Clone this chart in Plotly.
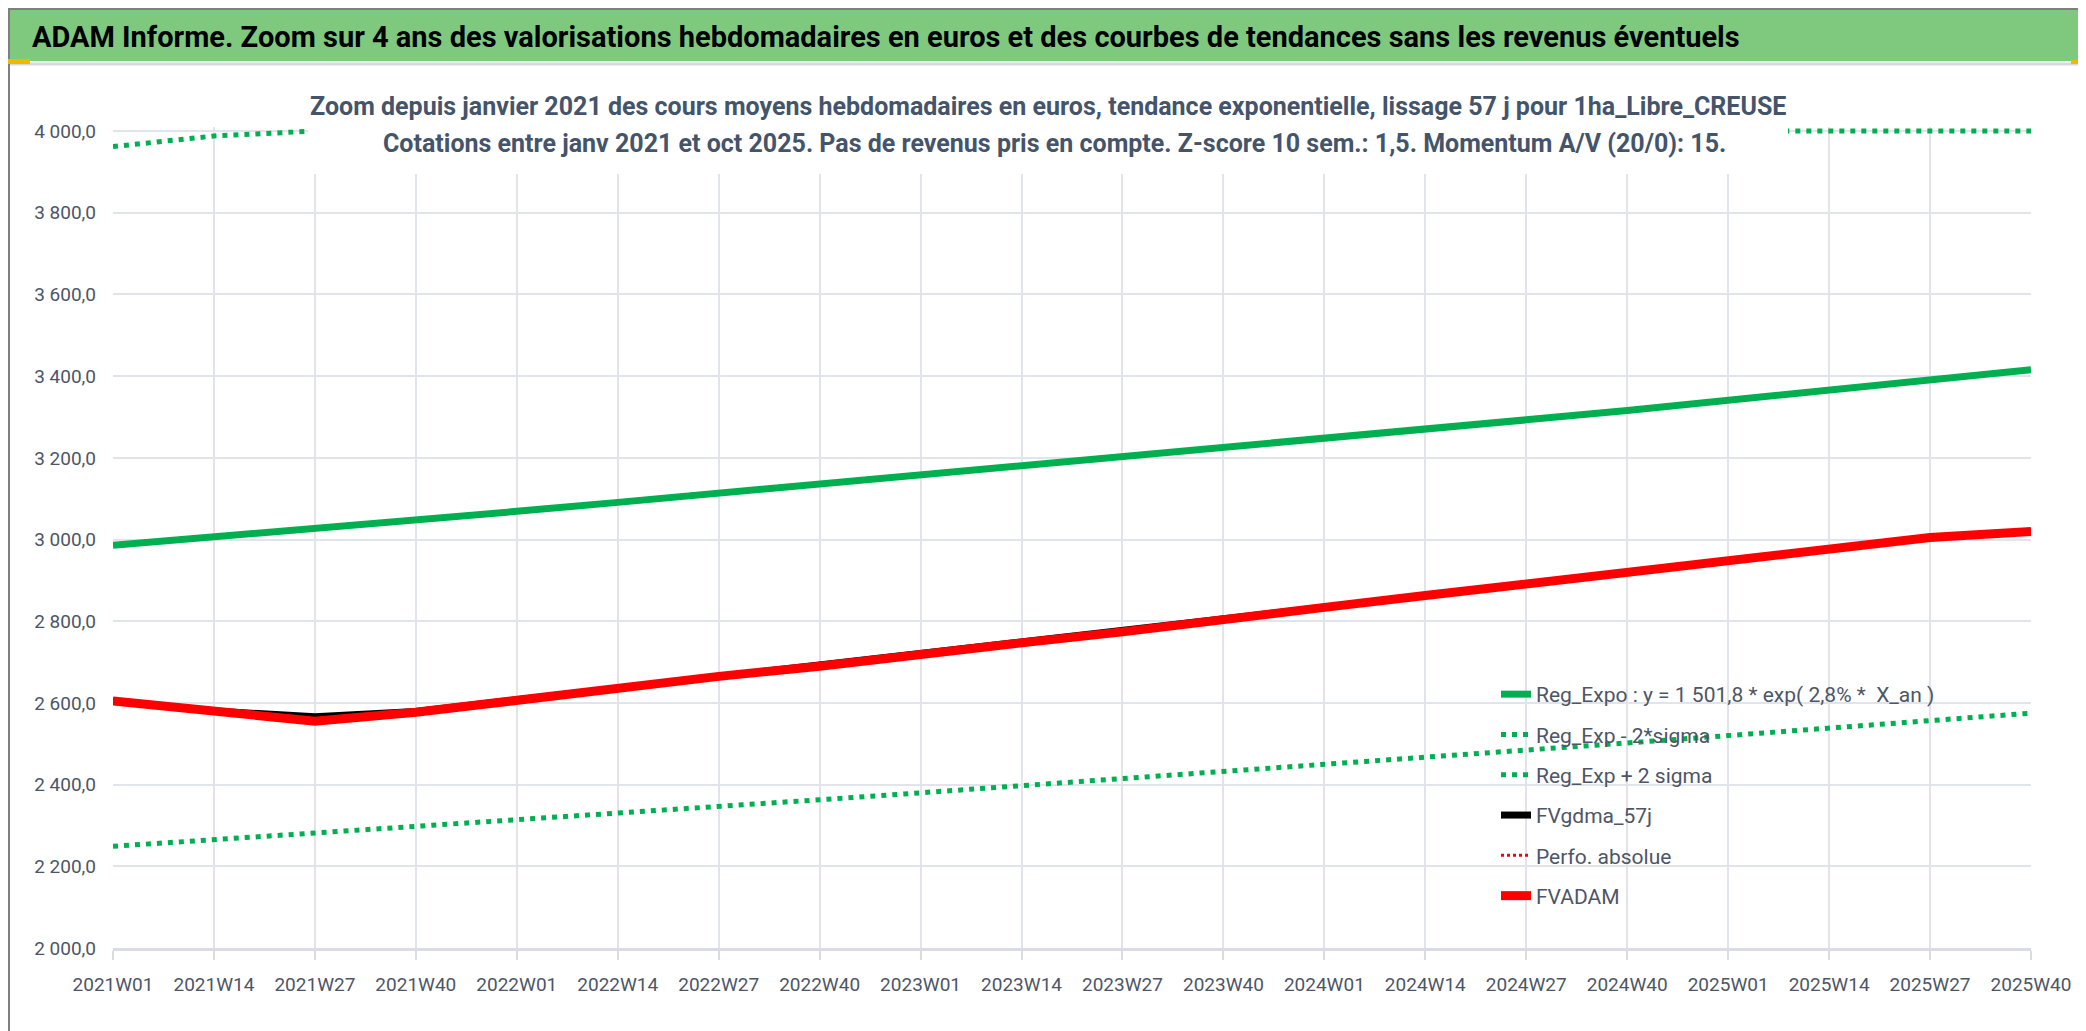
import plotly.graph_objects as go

# ====================== DATA ======================
weeks = ["2021W01", "2021W14", "2021W27", "2021W40",
         "2022W01", "2022W14", "2022W27", "2022W40",
         "2023W01", "2023W14", "2023W27", "2023W40",
         "2024W01", "2024W14", "2024W27", "2024W40",
         "2025W01", "2025W14", "2025W27", "2025W40"]

reg_expo = [2986, 3006, 3026, 3048, 3069, 3091, 3113, 3135, 3157, 3179,
            3201, 3224, 3247, 3270, 3293, 3316, 3340, 3364, 3390, 3416]
reg_minus_2sigma = [2249, 2265, 2281, 2297, 2313, 2329, 2346, 2363, 2380, 2397,
                    2414, 2431, 2448, 2466, 2484, 2502, 2520, 2538, 2556, 2575]
reg_plus_2sigma = [3962, 3988, 4000, 4000, 4000, 4000, 4000, 4000, 4000, 4000,
                   4000, 4000, 4000, 4000, 4000, 4000, 4000, 4000, 4000, 4000]
fvgdma_57j = [2605, 2580, 2566, 2579, 2608, 2636, 2665, 2690, 2720, 2747,
              2774, 2806, 2834, 2863, 2891, 2922, 2951, 2979, 3005, 3020]
perfo_absolue = [None] * len(weeks)
fvadam = [2605, 2578, 2555, 2577, 2608, 2636, 2665, 2690, 2720, 2747,
          2774, 2806, 2834, 2863, 2891, 2922, 2951, 2979, 3005, 3020]

TITLE = ("ADAM Informe. Zoom sur 4 ans des valorisations hebdomadaires en euros "
         "et des courbes de tendances sans les revenus éventuels")
SUB1 = ("Zoom depuis janvier 2021 des cours moyens hebdomadaires en euros, "
        "tendance exponentielle, lissage 57 j pour 1ha_Libre_CREUSE")
SUB2 = ("Cotations entre janv 2021 et oct 2025. Pas de revenus pris en compte. "
        "Z-score 10 sem.: 1,5. Momentum A/V (20/0): 15.")

# ====================== GEOMETRY ======================
W, H = 2086, 1031
ML, MR, MT, MB = 105, 63, 119, 91
PW, PH = W - ML - MR, H - MT - MB
FONT = "Roboto, Liberation Sans, sans-serif"
GREEN = "#00B050"
RED = "#FF0000"
GRID = "#E1E4EA"
TXT = "#4D5666"


def px(x):
    return (x - ML) / PW


def py(y):
    return (H - MB - y) / PH


# ====================== TRACES ======================
fig = go.Figure()
series = [
    ("Reg_Expo : y = 1 501,8 * exp( 2,8% *  X_an )", reg_expo, dict(color=GREEN, width=7)),
    ("Reg_Exp - 2*sigma", reg_minus_2sigma, dict(color=GREEN, width=5, dash="5px,6px")),
    ("Reg_Exp + 2 sigma", reg_plus_2sigma, dict(color=GREEN, width=5, dash="5px,6px")),
    ("FVgdma_57j", fvgdma_57j, dict(color="#000000", width=7)),
    ("Perfo. absolue", perfo_absolue, dict(color=RED, width=3, dash="3px,3px")),
    ("FVADAM", fvadam, dict(color=RED, width=9)),
]
for i, (name, vals, line) in enumerate(series):
    fig.add_trace(go.Scatter(x=weeks, y=vals, mode="lines", name=name,
                             line=line, legendgroup=f"g{i}",
                             hovertemplate="%{x}: %{y:,.1f}<extra>" + name + "</extra>"))

# ====================== FRAME / DECOR ======================
shapes = [
    # title band
    dict(type="rect", x0=px(0), x1=px(2084), y0=py(53), y1=py(1),
         fillcolor="#7FC97F", line=dict(width=0)),
    # subtitle box (hides what runs under it, as in the original)
    dict(type="rect", x0=px(300), x1=px(1780), y0=py(166), y1=py(60),
         fillcolor="white", line=dict(width=0)),
    # light chart borders
    dict(type="line", x0=px(0), x1=px(2080), y0=py(56), y1=py(56),
         line=dict(color="#D6DAE0", width=3)),
    dict(type="line", x0=px(2080), x1=px(2080), y0=py(56), y1=py(1025),
         line=dict(color="#D6DAE0", width=2)),
    dict(type="line", x0=px(0), x1=px(2080), y0=py(1025), y1=py(1025),
         line=dict(color="#D6DAE0", width=3)),
    # outer border
    dict(type="rect", x0=px(1), x1=px(2085), y0=py(1030), y1=py(1),
         line=dict(color="#7F7F7F", width=2)),
    # selection handles
    dict(type="rect", x0=px(0), x1=px(22), y0=py(56), y1=py(51),
         fillcolor="#F2B705", line=dict(width=0)),
    dict(type="rect", x0=px(2063), x1=px(2083), y0=py(56), y1=py(52),
         fillcolor="#F2B705", line=dict(width=0)),
    dict(type="rect", x0=px(2079), x1=px(2083), y0=py(72), y1=py(52),
         fillcolor="#F2B705", line=dict(width=0)),
    dict(type="rect", x0=px(2079), x1=px(2084), y0=py(1029), y1=py(988),
         fillcolor="#F2B705", line=dict(width=0)),
    dict(type="rect", x0=px(2063), x1=px(2084), y0=py(1029), y1=py(1025),
         fillcolor="#F2B705", line=dict(width=0)),
    dict(type="rect", x0=px(0), x1=px(21), y0=py(1030), y1=py(1026),
         fillcolor="#F2B705", line=dict(width=0)),
    dict(type="rect", x0=px(832), x1=px(966), y0=py(1030), y1=py(1027),
         fillcolor="#F7E98A", line=dict(width=0)),
]
for s in shapes:
    s.update(xref="paper", yref="paper", layer="above")

annotations = [
    dict(text="<b>" + TITLE + "</b>", x=px(22), y=py(29), xanchor="left", yanchor="middle",
         font=dict(family=FONT, size=29, color="#000000")),
    dict(text="<b>" + SUB1 + "</b>", x=px(1040), y=py(98), xanchor="center", yanchor="middle",
         font=dict(family=FONT, size=25, color="#44546A")),
    dict(text="<b>" + SUB2 + "</b>", x=px(1046), y=py(135), xanchor="center", yanchor="middle",
         font=dict(family=FONT, size=25, color="#44546A")),
]
for a in annotations:
    a.update(xref="paper", yref="paper", showarrow=False)

# ====================== LAYOUT ======================
fig.update_layout(
    width=W, height=H,
    margin=dict(l=ML, r=MR, t=MT, b=MB),
    paper_bgcolor="white", plot_bgcolor="white",
    separators=", ",
    font=dict(family=FONT, color=TXT),
    shapes=shapes, annotations=annotations,
    showlegend=True,
    legend=dict(x=px(1488), y=py(666), xanchor="left", yanchor="top",
                bgcolor="rgba(0,0,0,0)", traceorder="grouped", tracegroupgap=10,
                font=dict(family=FONT, size=21, color=TXT)),
    hovermode="x unified",
)
fig.update_xaxes(type="category", range=[0, len(weeks) - 1],
                 showgrid=True, gridcolor=GRID, gridwidth=2,
                 ticks="outside", ticklen=9, tickwidth=2, tickcolor="#D9DCE2",
                 showline=True, linecolor="#D9DCE2", linewidth=3,
                 ticklabelstandoff=8,
                 tickfont=dict(family=FONT, size=19, color=TXT), zeroline=False)
fig.update_yaxes(range=[2000, 4010], tick0=2000, dtick=200, tickformat=",.1f",
                 showgrid=True, gridcolor=GRID, gridwidth=2, zeroline=False,
                 ticklabelstandoff=16,
                 tickfont=dict(family=FONT, size=19, color=TXT))

fig.write_html("out.html")
